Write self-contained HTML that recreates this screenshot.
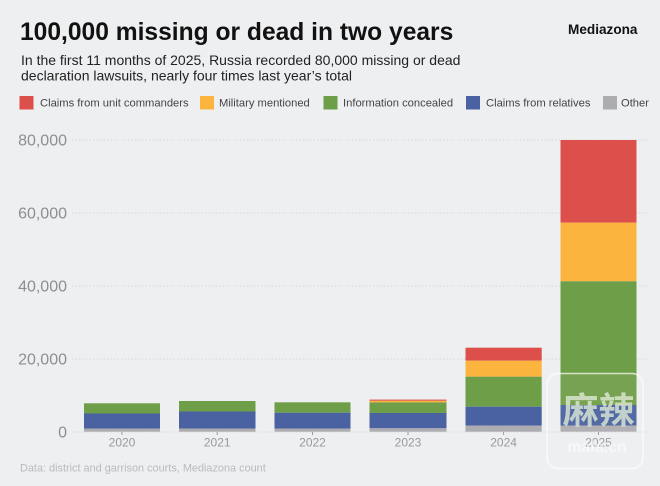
<!DOCTYPE html>
<html>
<head>
<meta charset="utf-8">
<style>
html,body{margin:0;padding:0;}
body{width:660px;height:486px;background:#eeeff1;overflow:hidden;font-family:"Liberation Sans",sans-serif;}
</style>
</head>
<body>
<svg width="660" height="486" viewBox="0 0 660 486" xmlns="http://www.w3.org/2000/svg" style="display:block">
<rect x="0" y="0" width="660" height="486" fill="#eeeff1"/>
<!-- Title -->
<text x="20" y="40" font-family="Liberation Sans, sans-serif" font-weight="bold" font-size="24.6" fill="#111">100,000 missing or dead in two years</text>
<text x="568" y="34" font-family="Liberation Sans, sans-serif" font-weight="bold" font-size="13.6" fill="#111">Mediazona</text>
<text x="21" y="65" font-family="Liberation Sans, sans-serif" font-size="14" fill="#222">In the first 11 months of 2025, Russia recorded 80,000 missing or dead</text>
<text x="21" y="80.5" font-family="Liberation Sans, sans-serif" font-size="14" fill="#222">declaration lawsuits, nearly four times last year’s total</text>

<!-- Legend -->
<g font-family="Liberation Sans, sans-serif" font-size="11.2" fill="#444">
<rect x="19.5" y="96" width="14" height="13.5" fill="#dd4f4b"/>
<text x="40" y="106.7">Claims from unit commanders</text>
<rect x="200" y="96" width="14" height="13.5" fill="#fbb53e"/>
<text x="219" y="106.7">Military mentioned</text>
<rect x="323.5" y="96" width="14" height="13.5" fill="#6f9e48"/>
<text x="343" y="106.7">Information concealed</text>
<rect x="466" y="96" width="14" height="13.5" fill="#4a62a1"/>
<text x="486" y="106.7">Claims from relatives</text>
<rect x="603" y="96" width="14" height="13.5" fill="#adadb1"/>
<text x="621" y="106.7">Other</text>
</g>

<!-- Grid -->
<g stroke="#d6d7da" stroke-width="1" stroke-dasharray="1.5,2">
<line x1="72" y1="140" x2="648" y2="140"/>
<line x1="72" y1="213" x2="648" y2="213"/>
<line x1="72" y1="286" x2="648" y2="286"/>
<line x1="72" y1="359" x2="648" y2="359"/>
<line x1="72" y1="432" x2="648" y2="432"/>
</g>
<g font-family="Liberation Sans, sans-serif" font-size="16" fill="#8e8e90" text-anchor="end">
<text x="67" y="145.7">80,000</text>
<text x="67" y="218.7">60,000</text>
<text x="67" y="291.7">40,000</text>
<text x="67" y="364.7">20,000</text>
<text x="67" y="437.5">0</text>
</g>

<!-- Bars -->
<!-- 2020 -->
<rect x="84" y="403.3" width="76" height="10.2" fill="#6f9e48"/>
<rect x="84" y="413.5" width="76" height="15" fill="#4a62a1"/>
<rect x="84" y="428.5" width="76" height="3.2" fill="#adadb1"/>
<!-- 2021 -->
<rect x="179" y="401" width="76.5" height="10.5" fill="#6f9e48"/>
<rect x="179" y="411.5" width="76.5" height="17" fill="#4a62a1"/>
<rect x="179" y="428.5" width="76.5" height="3.2" fill="#adadb1"/>
<!-- 2022 -->
<rect x="274.5" y="402.3" width="76" height="10.4" fill="#6f9e48"/>
<rect x="274.5" y="412.7" width="76" height="15.8" fill="#4a62a1"/>
<rect x="274.5" y="428.5" width="76" height="3.2" fill="#adadb1"/>
<!-- 2023 -->
<rect x="369.5" y="399.6" width="77" height="1.2" fill="#dd4f4b"/>
<rect x="369.5" y="400.8" width="77" height="1.6" fill="#fbb53e"/>
<rect x="369.5" y="402.4" width="77" height="10.6" fill="#6f9e48"/>
<rect x="369.5" y="413" width="77" height="15.3" fill="#4a62a1"/>
<rect x="369.5" y="428.3" width="77" height="3.4" fill="#adadb1"/>
<!-- 2024 -->
<rect x="465.5" y="347.7" width="76.2" height="13" fill="#dd4f4b"/>
<rect x="465.5" y="360.7" width="76.2" height="16" fill="#fbb53e"/>
<rect x="465.5" y="376.7" width="76.2" height="30" fill="#6f9e48"/>
<rect x="465.5" y="406.7" width="76.2" height="19" fill="#4a62a1"/>
<rect x="465.5" y="425.7" width="76.2" height="6" fill="#adadb1"/>
<!-- 2025 -->
<rect x="560.5" y="140" width="76" height="82.7" fill="#dd4f4b"/>
<rect x="560.5" y="222.7" width="76" height="58.6" fill="#fbb53e"/>
<rect x="560.5" y="281.3" width="76" height="123.7" fill="#6f9e48"/>
<rect x="560.5" y="405" width="76" height="20.5" fill="#4a62a1"/>
<rect x="560.5" y="425.5" width="76" height="6.2" fill="#adadb1"/>

<!-- ticks -->
<g stroke="#9a9a9c" stroke-width="1">
<line x1="122" y1="432" x2="122" y2="435"/>
<line x1="217.2" y1="432" x2="217.2" y2="435"/>
<line x1="312.5" y1="432" x2="312.5" y2="435"/>
<line x1="408" y1="432" x2="408" y2="435"/>
<line x1="503.6" y1="432" x2="503.6" y2="435"/>
<line x1="598.5" y1="432" x2="598.5" y2="435"/>
</g>
<g font-family="Liberation Sans, sans-serif" font-size="12" fill="#9a9a9c" text-anchor="middle">
<text x="122" y="446.5">2020</text>
<text x="217.2" y="446.5">2021</text>
<text x="312.5" y="446.5">2022</text>
<text x="408" y="446.5">2023</text>
<text x="503.6" y="446.5">2024</text>
<text x="598.5" y="446.5">2025</text>
</g>

<text x="20" y="471.5" font-family="Liberation Sans, sans-serif" font-size="10.9" fill="#b9babd">Data: district and garrison courts, Mediazona count</text>

<!-- watermark -->
<rect x="547" y="373.5" width="96" height="95" rx="11" ry="11" fill="#ffffff" fill-opacity="0.05" stroke="#ffffff" stroke-opacity="0.7" stroke-width="1.5"/>
<text x="598.5" y="423" font-family="Noto Sans CJK SC, sans-serif" font-weight="bold" font-size="36" fill="#dfead6" fill-opacity="0.8" text-anchor="middle">麻辣</text>
<text x="597" y="452" font-family="Liberation Sans, sans-serif" font-weight="bold" font-size="16" fill="#ffffff" fill-opacity="0.55" text-anchor="middle">mala.cn</text>
</svg>
</body>
</html>
